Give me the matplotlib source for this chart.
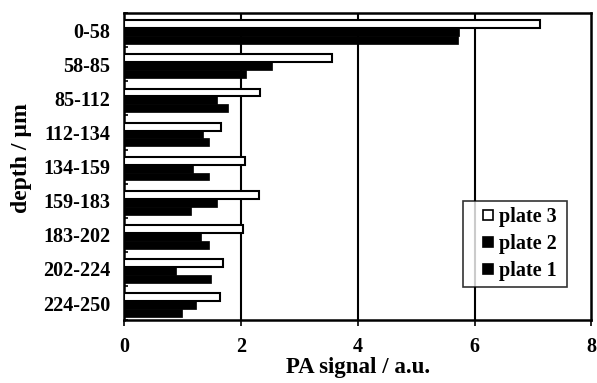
import matplotlib
matplotlib.use("Agg")
import matplotlib.pyplot as plt
from matplotlib.patches import Rectangle
from matplotlib.legend_handler import HandlerPatch
import numpy as np

categories = ["0-58", "58-85", "85-112", "112-134", "134-159", "159-183", "183-202", "202-224", "224-250"]
plate3 = [7.12, 3.55, 2.33, 1.66, 2.07, 2.31, 2.03, 1.69, 1.63]
plate2 = [5.73, 2.52, 1.59, 1.35, 1.17, 1.59, 1.31, 0.88, 1.23]
plate1 = [5.71, 2.09, 1.78, 1.45, 1.45, 1.14, 1.44, 1.48, 0.99]
xticks = [0, 2, 4, 6, 8]

plt.rcParams['font.family'] = ['Liberation Serif', 'DejaVu Serif']
plt.rcParams['font.weight'] = 'bold'

fig = plt.figure(figsize=(5.97, 3.83), dpi=100)
ax = fig.add_axes([0.2085, 0.164, 0.782, 0.802])

y = np.arange(len(categories)) + 0.06
h = 0.23
ax.barh(y - h, plate3, height=h, color='white', edgecolor='black', linewidth=1.5, zorder=3)
ax.barh(y, plate2, height=h, color='black', edgecolor='black', linewidth=0.5, zorder=3)
ax.barh(y + h, plate1, height=h, color='black', edgecolor='black', linewidth=0.5, zorder=3)

ax.set_xlim(0, 8)
ax.set_ylim(len(categories) - 0.5, -0.5)
ax.set_xticks(xticks)
ax.set_xticklabels([str(t) for t in xticks], fontsize=14.5, fontweight='bold')
ax.set_yticks(np.arange(len(categories)))
ax.set_yticklabels(categories, fontsize=14.5, fontweight='bold')
ax.tick_params(axis='y', length=0, pad=10)
ax.set_yticks(np.arange(-0.5, len(categories), 1), minor=True)
ax.tick_params(axis='y', which='minor', length=3, direction='in', width=1.2)
ax.tick_params(axis='x', length=4, direction='out', width=1.2, pad=8)

for g in [2, 4, 6]:
    ax.axvline(g, color='black', linewidth=1.5, zorder=1)

for s in ax.spines.values():
    s.set_linewidth(1.8)
    s.set_color('black')

ax.set_xlabel("PA signal / a.u.", fontsize=16.5, fontweight='bold', labelpad=0)
ax.set_ylabel("depth / µm", fontsize=17, fontweight='bold')
ax.yaxis.set_label_coords(-0.198, 0.528)


def square_patch(legend, orig_handle, xdescent, ydescent, width, height, fontsize):
    s = 0.5 * fontsize
    return Rectangle((-xdescent + width - s, -ydescent + (height - s) / 2), s, s)


handles = [
    Rectangle((0, 0), 1, 1, facecolor='white', edgecolor='black', linewidth=1.2),
    Rectangle((0, 0), 1, 1, facecolor='black', edgecolor='black', linewidth=1.2),
    Rectangle((0, 0), 1, 1, facecolor='black', edgecolor='black', linewidth=1.2),
]
labels = ['plate 3 ', 'plate 2 ', 'plate 1 ']
leg = ax.legend(handles, labels, loc='lower left', bbox_to_anchor=(0.726, 0.108), frameon=True,
                fancybox=False, edgecolor='black', fontsize=14.5, handlelength=1.15, handleheight=0.6,
                handletextpad=0.3, borderpad=0.3, labelspacing=0.35, borderaxespad=0,
                handler_map={Rectangle: HandlerPatch(patch_func=square_patch)})
leg.get_frame().set_linewidth(1.2)
for t in leg.get_texts():
    t.set_fontweight('bold')

fig.savefig("out.png", dpi=100)
